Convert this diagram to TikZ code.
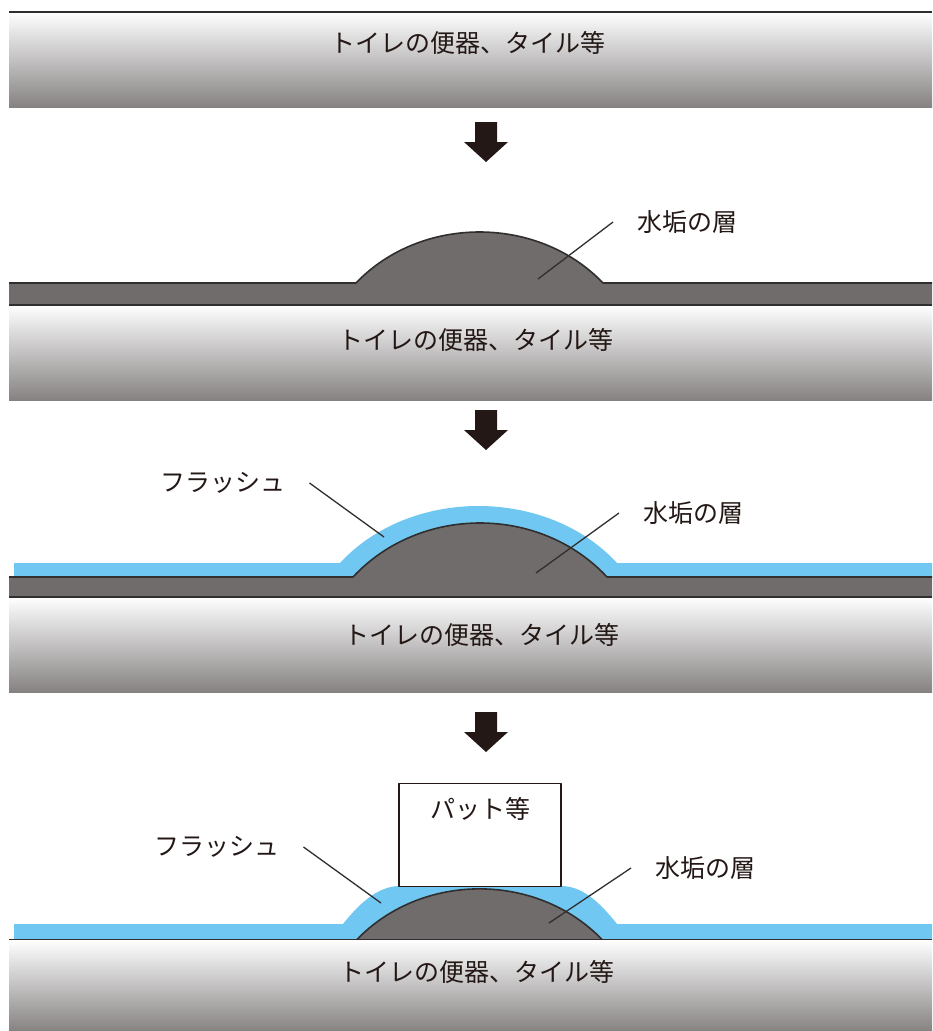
\documentclass[tikz,border=0pt]{standalone}
\usepackage{fontspec}
\newfontfamily\jp{Noto Sans CJK JP}
\usepackage{tikz}
\definecolor{ink}{RGB}{35,24,21}
\definecolor{edgegray}{RGB}{48,46,46}
\definecolor{scalegray}{RGB}{112,108,108}
\definecolor{flushblue}{RGB}{112,200,242}
\definecolor{floormid}{RGB}{226,225,225}
\definecolor{floordark}{RGB}{134,130,130}

\begin{document}
\begin{tikzpicture}[x=1pt, y=-1pt, line join=round,
                    every node/.style={font=\jp\fontsize{25}{30}\selectfont, text=ink}]
  \tikzstyle{floor}=[top color=white, middle color=floormid, bottom color=floordark]
  \tikzstyle{surface}=[draw=edgegray, line width=1.6pt]
  \tikzstyle{leader}=[draw=edgegray, line width=1.3pt]
  \tikzstyle{partname}=[inner sep=0pt, outer xsep=24pt]
  \tikzstyle{padbox}=[draw=ink, fill=white, line width=1.2pt, inner sep=0pt,
                      minimum width=162pt, text height=35pt, text depth=68pt]

  \useasboundingbox (0,0) rectangle (932,1031);

  % toilet bowl / tile
  \foreach \t/\b in {12/107, 305/400, 597/692, 940/1031}
    \shade[floor] (9,\t) rectangle (932,\b);
  \draw[surface] (9,12) -- (932,12);

  \node (f1) at (468,43)  {トイレの便器、タイル等};
  \node (f2) at (476,340) {トイレの便器、タイル等};
  \node (f3) at (482,635) {トイレの便器、タイル等};
  \node (f4) at (477,972) {トイレの便器、タイル等};

  % step arrows
  \foreach \y in {122,410,712}
    \fill[ink] (475,\y) -- (497,\y) -- (497,\y+20) -- (508,\y+20) -- (486,\y+40)
               -- (464,\y+20) -- (475,\y+20) -- cycle;

  % 2: scale layer
  \fill[scalegray] (9,283) -- (356,283) .. controls (421,215) and (538,215) .. (603,283)
                   -- (932,283) -- (932,305) -- (9,305) -- cycle;
  \draw[surface] (9,283) -- (356,283) .. controls (421,215) and (538,215) .. (603,283) -- (932,283);
  \draw[surface] (9,305) -- (932,305);

  % 3: flush over scale
  \fill[flushblue] (14,563) -- (340,563) .. controls (410,487) and (547,487) .. (617,563)
                   -- (932,563) -- (932,577) -- (14,577) -- cycle;
  \fill[scalegray] (9,577) -- (353,577) .. controls (420,505) and (540,505) .. (607,577)
                   -- (932,577) -- (932,597) -- (9,597) -- cycle;
  \draw[surface] (9,577) -- (353,577) .. controls (420,505) and (540,505) .. (607,577) -- (932,577);
  \draw[surface] (9,597) -- (932,597);

  % 4: pad pressing the flush
  \fill[flushblue] (14,924) -- (343,924) .. controls (362,900) and (380,886) .. (400,886)
                   -- (561,886) .. controls (581,886) and (598,900) .. (617,924)
                   -- (932,924) -- (932,939.5) -- (14,939.5) -- cycle;
  \fill[scalegray] (357,939.5) .. controls (422,872) and (537,872) .. (602,939.5) -- cycle;
  \draw[surface] (357,939.5) .. controls (422,872) and (537,872) .. (602,939.5);
  \draw[surface] (9,939.5) -- (932,939.5);
  \node[padbox, anchor=north] (pad) at (480,783) {パット等};

  % labels
  \node[partname] (s2) at (687,222) {水垢の層};
  \node[partname] (s3) at (693,513) {水垢の層};
  \node[partname] (s4) at (705,868) {水垢の層};
  \node[partname] (u3) at (223,483) {フラッシュ};
  \node[partname] (u4) at (217,847) {フラッシュ};

  \coordinate (s2end) at (538,279);
  \coordinate (s3end) at (536,573);
  \coordinate (s4end) at (549,923);
  \coordinate (u3end) at (384,537);
  \coordinate (u4end) at (381,903);

  \path[leader] (s2.west) edge (s2end)
                (s3.west) edge (s3end)
                (s4.west) edge (s4end)
                (u3.east) edge (u3end)
                (u4.east) edge (u4end);
\end{tikzpicture}
\end{document}
